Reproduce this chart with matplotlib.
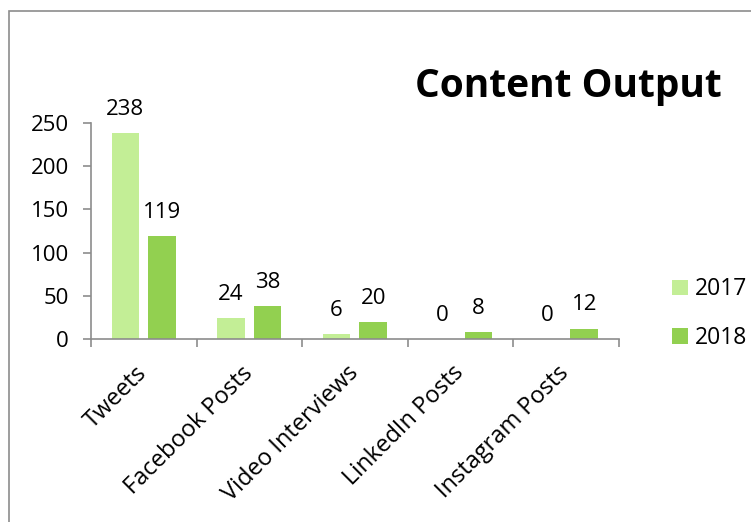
import numpy as np
import matplotlib.pyplot as plt
from matplotlib.patches import Rectangle

plt.rcParams['font.family'] = ['Open Sans', 'DejaVu Sans']

# datos del grafico
categories = ['Tweets', 'Facebook Posts', 'Video Interviews', 'LinkedIn Posts', 'Instagram Posts']
years = ['2017', '2018']
values_2017 = [238, 24, 6, 0, 0]
values_2018 = [119, 38, 20, 8, 12]
yticks = [0, 50, 100, 150, 200, 250]

col_2017 = '#C3EE96'
col_2018 = '#92D050'
grey = '#8C8C8C'
fs = 16

W, H = 751, 522
fig = plt.figure(figsize=(W / 100, H / 100), dpi=100)
ax = fig.add_axes([91 / W, 1 - 339 / H, 527.5 / W, 216 / H])

x = np.arange(len(categories))
bw = 0.26
off = 0.175
b1 = ax.bar(x - off, values_2017, bw, color=col_2017, label=years[0])
b2 = ax.bar(x + off, values_2018, bw, color=col_2018, label=years[1])

# etiquetas de datos
for bars, vals in [(b1, values_2017), (b2, values_2018)]:
    for rect, v in zip(bars, vals):
        ax.annotate(str(v), (rect.get_x() + rect.get_width() / 2, v),
                    xytext=(0, 9.5), textcoords='offset points',
                    ha='center', va='bottom', fontsize=fs)

ax.set_xlim(-0.5, len(categories) - 0.5)
ax.set_ylim(0, 250)
ax.set_yticks(yticks)
ax.set_yticklabels([str(t) for t in yticks], fontsize=fs)

# ticks en los limites de categoria, etiquetas en el centro
ax.set_xticks(np.arange(len(categories) + 1) - 0.5)
ax.set_xticklabels([])
ax.set_xticks(x, minor=True)
ax.set_xticklabels(categories, minor=True, rotation=45, ha='right',
                   va='center', rotation_mode='anchor', fontsize=17)
ax.tick_params(axis='x', which='minor', length=0, pad=22)
ax.tick_params(axis='x', which='major', length=6, color=grey, width=1.2)
ax.tick_params(axis='y', length=6, color=grey, width=1.2, pad=10)

for s in ['top', 'right']:
    ax.spines[s].set_visible(False)
for s in ['left', 'bottom']:
    ax.spines[s].set_color(grey)
    ax.spines[s].set_linewidth(1.2)

fig.text(722 / W, 1 - 97 / H, 'Content Output', ha='right', va='baseline',
         fontsize=28, fontweight='bold')

fig.legend(handles=[b1, b2], loc='upper left',
           bbox_to_anchor=(661 / W, 1 - 266 / H), frameon=False, borderpad=0,
           fontsize=16.5, handlelength=0.68, handleheight=0.68,
           handletextpad=0.32, labelspacing=1.07)

# marco del grafico
fig.patches.append(Rectangle((9 / W, -0.2), 1.2, 1.2 - 11 / H, transform=fig.transFigure,
                             fill=False, edgecolor=grey, linewidth=1.2))

fig.savefig('out.png', dpi=100)
